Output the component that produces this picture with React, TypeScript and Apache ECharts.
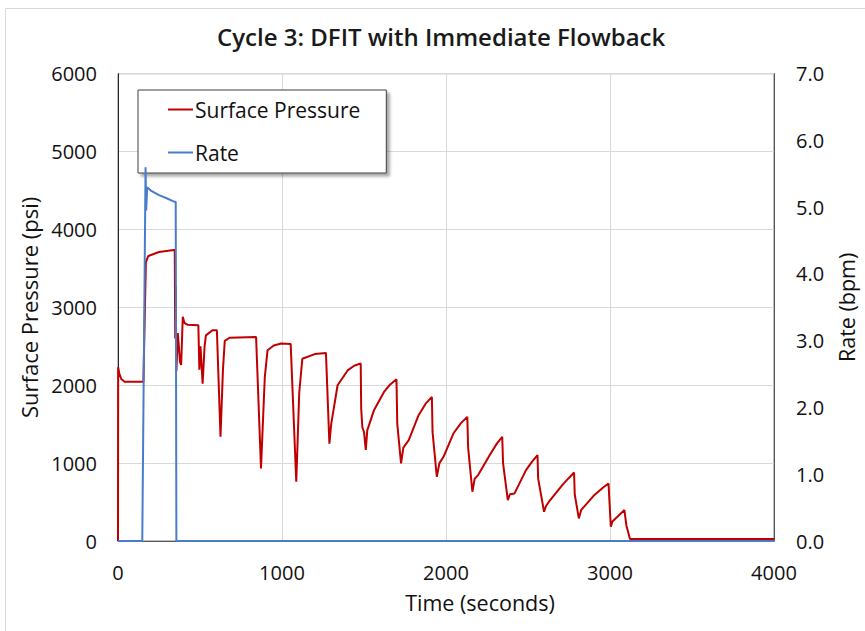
import React, { useEffect, useRef } from "react";
import * as echarts from "echarts";

const TITLE = "Cycle 3: DFIT with Immediate Flowback";
const PRESSURE_NAME = "Surface Pressure";
const RATE_NAME = "Rate";

// Time (s) / surface pressure (psi)
const pressureTime = [
  0, 1, 8, 20, 40, 155, 170, 185, 250, 340, 346, 349, 352, 356, 365, 378, 385, 395, 405, 425,
  490, 496, 503, 516, 528, 536, 576, 603, 625, 640, 651, 680, 842, 872, 895, 912, 950, 995,
  1053, 1087, 1105, 1124, 1200, 1268, 1289, 1300, 1339, 1400, 1440, 1480, 1483, 1490, 1500,
  1511, 1520, 1561, 1622, 1660, 1698, 1703, 1726, 1740, 1773, 1833, 1875, 1914, 1918, 1944,
  1960, 1985, 2045, 2090, 2130, 2135, 2161, 2175, 2196, 2267, 2310, 2343, 2348, 2377, 2390,
  2418, 2488, 2525, 2558, 2562, 2598, 2610, 2628, 2709, 2745, 2781, 2785, 2810, 2825, 2900,
  2960, 2991, 3005, 3015, 3050, 3088, 3100, 3122, 3500, 4000,
];
const pressureValues = [
  0, 2230, 2150, 2080, 2045, 2045, 3580, 3660, 3710, 3735, 3735, 2600, 3270, 2180, 2670, 2300,
  2260, 2880, 2800, 2775, 2770, 2200, 2500, 2020, 2500, 2640, 2705, 2705, 1340, 2200, 2570,
  2610, 2620, 930, 2100, 2450, 2510, 2535, 2530, 760, 1900, 2340, 2400, 2415, 1250, 1500,
  2000, 2190, 2250, 2280, 1700, 1460, 1400, 1170, 1420, 1680, 1914, 2010, 2077, 1500, 996,
  1200, 1295, 1615, 1760, 1850, 1400, 825, 1000, 1081, 1380, 1510, 1594, 1200, 632, 800, 846,
  1103, 1250, 1337, 1000, 526, 600, 611, 910, 1020, 1103, 800, 376, 450, 504, 718, 800, 880,
  600, 290, 400, 580, 690, 739, 184, 250, 320, 397, 200, 25, 25, 25,
];

// Time (s) / injection rate (bpm)
const rateTime = [0, 148, 168, 172, 178, 200, 250, 300, 345, 352, 356, 4000];
const rateValues = [0, 0, 5.6, 4.95, 5.3, 5.25, 5.18, 5.13, 5.08, 5.08, 0, 0];

const FONT = "'Open Sans', Lato, sans-serif";

export default function App() {
  const ref = useRef<HTMLDivElement>(null);
  useEffect(() => {
    if (!ref.current) return;
    const chart = echarts.init(ref.current, undefined, { renderer: "svg" });
    const pressureData = pressureTime.map((t, i) => [t, pressureValues[i]]);
    const rateData = rateTime.map((t, i) => [t, rateValues[i]]);
    chart.setOption({
      animation: false,
      backgroundColor: "#ffffff",
      textStyle: { fontFamily: FONT },
      title: {
        text: TITLE,
        left: 217,
        top: 24,
        padding: 0,
        textStyle: { fontFamily: FONT, fontSize: 24, fontWeight: 600, color: "#1a1a1a" },
      },
      graphic: [
        {
          type: "rect",
          shape: { x: 5.5, y: 8.5, width: 900, height: 700 },
          style: { fill: "none", stroke: "#d9d9d9", lineWidth: 1 },
          silent: true,
        },
      ],
      grid: {
        left: 118,
        right: 85,
        top: 73.7,
        bottom: 90,
        show: true,
        borderColor: "#7f7f7f",
        borderWidth: 1,
      },
      legend: {
        left: 138,
        top: 90,
        orient: "vertical",
        padding: [9, 26, 10, 30],
        itemGap: 22,
        itemWidth: 25,
        itemHeight: 2,
        backgroundColor: "#ffffff",
        borderColor: "#404040",
        borderWidth: 1,
        shadowColor: "rgba(0,0,0,0.35)",
        shadowBlur: 3,
        shadowOffsetX: 3,
        shadowOffsetY: 3,
        textStyle: { fontFamily: FONT, fontSize: 21, color: "#111", padding: [0, 0, 0, -3] },
        data: [
          { name: PRESSURE_NAME, icon: "rect" },
          { name: RATE_NAME, icon: "rect" },
        ],
      },
      xAxis: {
        type: "value",
        min: 0,
        max: 4000,
        interval: 1000,
        name: "Time (seconds)",
        nameLocation: "middle",
        nameGap: 50,
        nameTextStyle: {
          fontFamily: FONT,
          fontSize: 21.5,
          color: "#111",
          padding: [0, 0, 0, 68],
        },
        axisLine: { show: true, lineStyle: { color: "#595959", width: 1 } },
        axisTick: { show: false },
        axisLabel: {
          fontFamily: FONT,
          fontSize: 20,
          color: "#111",
          margin: 21,
          formatter: (v: number) => String(v),
        },
        splitLine: { show: true, lineStyle: { color: "#d9d9d9", width: 1 } },
      },
      yAxis: [
        {
          type: "value",
          min: 0,
          max: 6000,
          interval: 1000,
          name: "Surface Pressure (psi)",
          nameLocation: "middle",
          nameGap: 73,
          nameRotate: 90,
          nameTextStyle: { fontFamily: FONT, fontSize: 22, color: "#111" },
          axisLine: { show: true, lineStyle: { color: "#262626", width: 1 } },
          axisTick: { show: false },
          axisLabel: {
            fontFamily: FONT,
            fontSize: 20,
            color: "#111",
            margin: 21,
            formatter: (v: number) => String(v),
          },
          splitLine: { show: true, lineStyle: { color: "#d9d9d9", width: 1 } },
        },
        {
          type: "value",
          min: 0,
          max: 7,
          interval: 1,
          position: "right",
          name: "Rate (bpm)",
          nameLocation: "middle",
          nameGap: 40,
          nameRotate: 90,
          nameTextStyle: { fontFamily: FONT, fontSize: 21.5, color: "#111" },
          axisLine: { show: true, lineStyle: { color: "#595959", width: 1 } },
          axisTick: { show: false },
          axisLabel: {
            fontFamily: FONT,
            fontSize: 20,
            color: "#111",
            margin: 22,
            formatter: (v: number) => v.toFixed(1),
          },
          splitLine: { show: false },
        },
      ],
      series: [
        {
          name: PRESSURE_NAME,
          type: "line",
          yAxisIndex: 0,
          data: pressureData,
          showSymbol: false,
          symbol: "none",
          lineStyle: { color: "#C00000", width: 2 },
          itemStyle: { color: "#C00000" },
          z: 3,
        },
        {
          name: RATE_NAME,
          type: "line",
          yAxisIndex: 1,
          data: rateData,
          showSymbol: false,
          symbol: "none",
          lineStyle: { color: "#4A7CCC", width: 2 },
          itemStyle: { color: "#4A7CCC" },
          z: 4,
        },
      ],
    });
    return () => chart.dispose();
  }, []);
  return (
    <div
      ref={ref}
      style={{ position: "absolute", left: 0, top: 0, width: 865, height: 631 }}
    />
  );
}
